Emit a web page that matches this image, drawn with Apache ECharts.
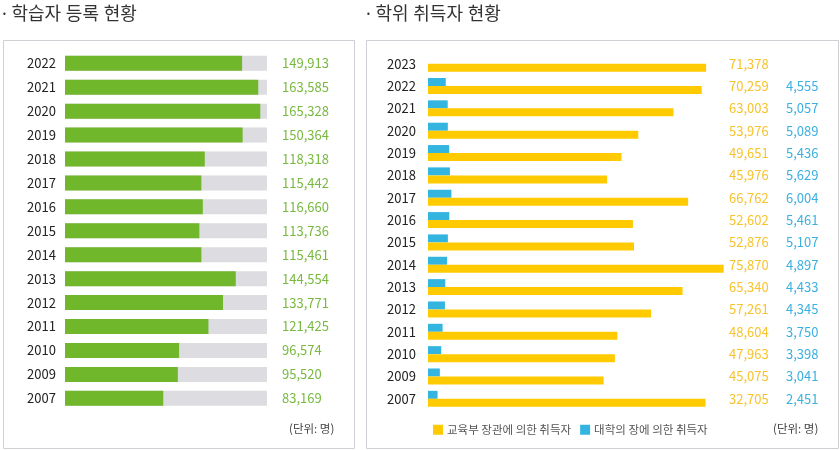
<!DOCTYPE html>
<html><head><meta charset="utf-8">
<script src="https://cdn.jsdelivr.net/npm/echarts@6/dist/echarts.min.js"></script>
<style>html,body{margin:0;padding:0;background:#fff}#c{width:840px;height:450px}</style>
</head><body><div id="c"></div>
<script>
// Left panel: 학습자 등록 현황
const learnerYears = ['2022','2021','2020','2019','2018','2017','2016','2015','2014','2013','2012','2011','2010','2009','2007'];
const learnerCounts = [149913,163585,165328,150364,118318,115442,116660,113736,115461,144554,133771,121425,96574,95520,83169];

// Right panel: 학위 취득자 현황
const degreeYears = ['2023','2022','2021','2020','2019','2018','2017','2016','2015','2014','2013','2012','2011','2010','2009','2007'];
// bar lengths as drawn in the picture (2007 bar is drawn much longer than its label)
const ministryBars = [71378,70259,63003,53976,49651,45976,66762,52602,52876,75870,65340,57261,48604,47963,45075,71240];
const ministryLabels = [71378,70259,63003,53976,49651,45976,66762,52602,52876,75870,65340,57261,48604,47963,45075,32705];
const univCounts = [null,4555,5057,5089,5436,5629,6004,5461,5107,4897,4433,4345,3750,3398,3041,2451];

const seriesNames = ['교육부 장관에 의한 취득자','대학의 장에 의한 취득자'];
const titles = ['· 학습자 등록 현황','· 학위 취득자 현황'];
const unitText = '(단위: 명)';

const FONT = '"Noto Sans CJK KR","Noto Sans",sans-serif';
const TFONT = '"Noto Sans","Noto Sans CJK KR",sans-serif';
const fmt = v => v == null ? '' : v.toLocaleString('en-US');

const chart = echarts.init(document.getElementById('c'), null, {renderer:'canvas'});
chart.setOption({
  animation:false,
  textStyle:{fontFamily:FONT},
  grid:[
    {left:65, width:202, top:51.3, bottom:39.7},
    {left:428, width:300, top:52.5, bottom:40}
  ],
  xAxis:[
    {gridIndex:0, type:'value', min:0, max:171000, show:false},
    {gridIndex:1, type:'value', min:0, max:77000, show:false}
  ],
  yAxis:[
    {gridIndex:0, type:'category', data:learnerYears, inverse:true, position:'left',
     axisLine:{show:false}, axisTick:{show:false},
     axisLabel:{align:'left', margin:38, fontSize:13, color:'#222', fontFamily:FONT}},
    {gridIndex:0, type:'category', data:learnerYears, inverse:true, position:'right',
     axisLine:{show:false}, axisTick:{show:false},
     axisLabel:{align:'left', margin:15, fontSize:13, color:'#78b940', fontFamily:FONT,
       formatter:(v,i)=>fmt(learnerCounts[i])}},
    {gridIndex:1, type:'category', data:degreeYears, inverse:true, position:'left',
     axisLine:{show:false}, axisTick:{show:false},
     axisLabel:{align:'left', margin:41, fontSize:13, color:'#222', fontFamily:FONT}},
    {gridIndex:1, type:'category', data:degreeYears, inverse:true, position:'right',
     axisLine:{show:false}, axisTick:{show:false},
     axisLabel:{align:'left', margin:1, fontFamily:FONT,
       formatter:(v,i)=>'{a|'+fmt(ministryLabels[i])+'}{b|'+fmt(univCounts[i])+'}',
       rich:{a:{width:57, fontSize:13, color:'#f8c32c', fontFamily:FONT},
             b:{fontSize:13, color:'#3cb0e0', fontFamily:FONT}}}}
  ],
  legend:{
    left:428, top:419, itemWidth:10, itemHeight:10, itemGap:9, icon:'rect',
    textStyle:{fontSize:11.5, color:'#555', fontFamily:FONT, padding:[0,0,0,-1]},
    data:seriesNames
  },
  series:[
    {type:'bar', xAxisIndex:0, yAxisIndex:0, data:learnerCounts, barWidth:15,
     itemStyle:{color:'#70b72b'}, showBackground:true,
     backgroundStyle:{color:'#dcdce1'}},
    {name:seriesNames[1], type:'bar', xAxisIndex:1, yAxisIndex:2, data:univCounts,
     barWidth:8, barGap:'0%', itemStyle:{color:'#33b5e0'}},
    {name:seriesNames[0], type:'bar', xAxisIndex:1, yAxisIndex:2, data:ministryBars,
     barWidth:8, barGap:'0%', itemStyle:{color:'#ffcb00'}}
  ],
  graphic:[
    {type:'rect', shape:{x:3.5, y:40.5, width:351, height:408}, style:{fill:'none', stroke:'#cfd0d6', lineWidth:1}, silent:true, z:-1},
    {type:'rect', shape:{x:366.5, y:40.5, width:472, height:408}, style:{fill:'none', stroke:'#cfd0d6', lineWidth:1}, silent:true, z:-1},
    {type:'text', left:2, top:6, style:{text:titles[0], font:'18px '+TFONT, fill:'#333'}},
    {type:'text', left:366, top:6, style:{text:titles[1], font:'18px '+TFONT, fill:'#333'}},
    {type:'text', left:289, top:423, style:{text:unitText, font:'11.5px '+FONT, fill:'#444'}},
    {type:'text', left:773, top:423, style:{text:unitText, font:'11.5px '+FONT, fill:'#444'}}
  ]
});
</script></body></html>
